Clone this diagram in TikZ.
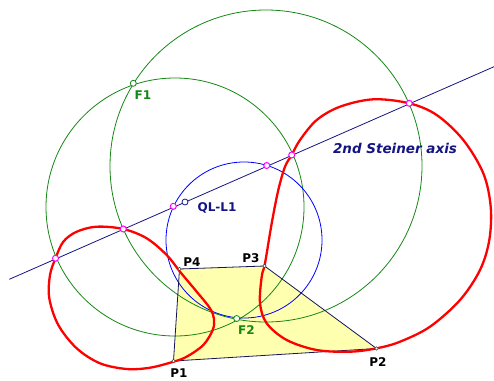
\documentclass[tikz,border=0pt]{standalone}
\usepackage{fontspec}
\setmainfont{DejaVu Sans}
\definecolor{cgreen}{RGB}{20,135,20}
\definecolor{cnavy}{RGB}{20,20,130}
\definecolor{cquad}{RGB}{20,20,90}
\definecolor{cyellow}{RGB}{255,255,176}
\definecolor{cmag}{RGB}{255,0,255}
\definecolor{cred}{RGB}{255,0,0}
\begin{document}
\begin{tikzpicture}[x=1pt,y=-1pt,
  greencirc/.style={draw=cgreen,line width=0.8pt},
  bluecirc/.style={draw=blue,line width=0.8pt},
  axisline/.style={draw=cnavy,line width=0.8pt},
  quadedge/.style={draw=cquad,line width=0.8pt},
  redcurve/.style={draw=cred,line width=2.3pt,line join=round},
  magpt/.style={circle,draw=cmag,fill=white,inner sep=0pt,minimum size=6pt,line width=1pt},
  vpt/.style={circle,draw=black!75,fill=white,inner sep=0pt,minimum size=3.5pt,line width=0.6pt},
  fpt/.style={circle,draw=cgreen,fill=white,inner sep=0pt,minimum size=6pt,line width=0.8pt},
  qpt/.style={circle,draw=cnavy,fill=white,inner sep=0pt,minimum size=6pt,line width=0.8pt},
  lab/.style={inner sep=0pt,font=\bfseries\fontsize{12}{14}\selectfont},
]
\useasboundingbox (0,0) rectangle (494,380);
% points
\coordinate (P1) at (173.5,361);
\coordinate (P2) at (376.5,348.5);
\coordinate (P3) at (264.5,266);
\coordinate (P4) at (179.5,269);
\coordinate (F1) at (133.3,83.3);
\coordinate (F2) at (236.7,318.5);
\coordinate (Q) at (185,202);
\coordinate (CG1) at (175,207);
\coordinate (CG2) at (266,166);
\coordinate (CB) at (244,240);
\coordinate (L0) at (9.3,279.3);
\coordinate (L1) at (494,66.7);
\coordinate (M1) at (55.5,258.3);
\coordinate (M2) at (123.3,229);
\coordinate (M3) at (173.3,206.3);
\coordinate (M4) at (266.7,165.5);
\coordinate (M5) at (291.7,155);
\coordinate (M6) at (409.3,103.3);
% quadrilateral fill
\fill[cyellow] (P1) -- (P2) -- (P3) -- (P4) -- cycle;
% circles
\draw[greencirc] (CG1) circle (129);
\draw[greencirc] (CG2) circle (156);
\draw[bluecirc] (CB) circle (78);
% axis
\draw[axisline] (L0) -- (L1);
% quad edges
\draw[quadedge] (P1) -- (P2) -- (P3) -- (P4) -- cycle;
% red cubic: left oval
\draw[redcurve] plot[smooth cycle,tension=0.55] coordinates {
 (55.5,258.3) (63.3,241.7) (76.7,231.7) (96.7,226.7) (123.3,229)
 (146.7,238.3) (166.7,255) (180,271.7) (196.7,291.7) (210,308.3)
 (214,319) (212.7,330) (203.3,345) (186.7,356.7) (173.5,361.7)
 (150,367.7) (126.7,369) (100,363.3) (76.7,348.3) (58.3,325)
 (49.3,298.3) (50,275)};
% red cubic: right oval
\draw[redcurve] plot[smooth cycle,tension=0.55] coordinates {
 (291.7,155) (300,140) (316.7,120) (340,106.7) (373.3,99.3)
 (409.3,103.3) (436.7,115) (463.3,140) (483.3,173.3) (490.7,206.7)
 (489.3,240) (480,270) (460,300) (430,326.7) (400,341.7)
 (376.7,348.3) (350,351.7) (316.7,350) (286.7,340) (266.7,323.3)
 (260,303.3) (261.7,276.7) (265,263.3) (271.7,223.3) (278.3,190)
 (285,166.7)};
% markers
\node[vpt] (nP1) at (P1) {};
\node[vpt] (nP2) at (P2) {};
\node[vpt] (nP3) at (P3) {};
\node[vpt] (nP4) at (P4) {};
\node[fpt] (nF1) at (F1) {};
\node[fpt] (nF2) at (F2) {};
\node[qpt] (nQ) at (Q) {};
\foreach \m in {M1,M2,M3,M4,M5,M6} \node[magpt] (n\m) at (\m) {};
% labels
\node[lab,text=cgreen] (tF1) at (143,95.5) {F1};
\node[lab,text=cgreen] (tF2) at (246.5,330) {F2};
\node[lab,text=cnavy] (tQ) at (217,208) {QL-L1};
\node[lab] (tP1) at (179,373) {P1};
\node[lab] (tP2) at (378,362) {P2};
\node[lab] (tP3) at (251,258) {P3};
\node[lab] (tP4) at (192,262) {P4};
\node[lab,text=cnavy,font=\bfseries\itshape\fontsize{13.5}{15}\selectfont] (tS) at (395,148.5) {2nd Steiner axis};
\end{tikzpicture}
\end{document}
